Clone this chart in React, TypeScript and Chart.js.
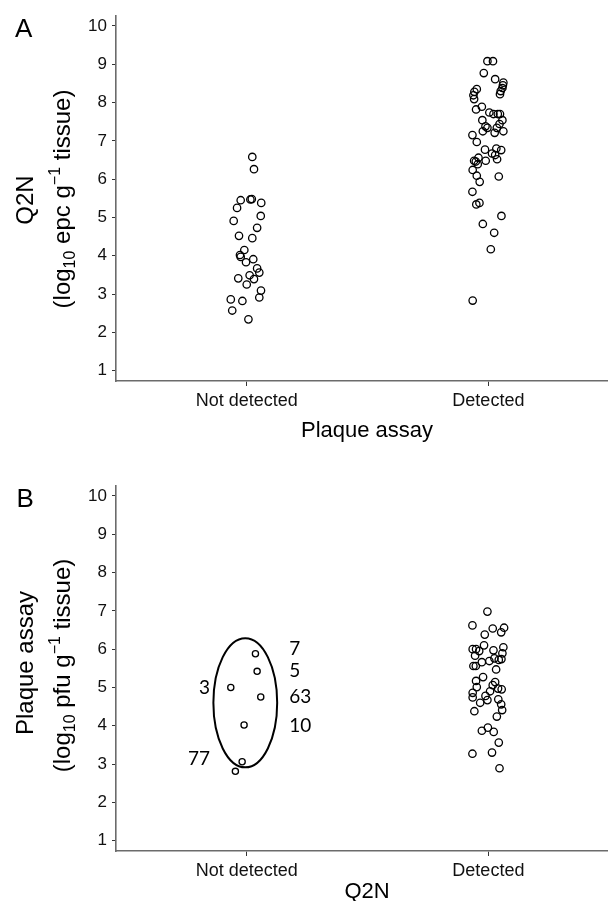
import React, { useEffect, useRef } from "react";
import { Chart, registerables } from "chart.js";
Chart.register(...registerables);

// ---------- DATA ----------
const categories = ["Not detected", "Detected"];
const yTickValues = [1, 2, 3, 4, 5, 6, 7, 8, 9, 10];

// Panel A: Q2N (log10 epc/g) grouped by plaque assay result
const aNotDetectedQ2N = [6.58, 6.26, 5.45, 5.47, 5.48, 5.38, 5.25, 5.04, 4.91, 4.73, 4.52, 4.46, 4.15, 4.02, 3.97, 3.91, 3.83, 3.67, 3.56, 3.49, 3.39, 3.41, 3.25, 3.09, 2.91, 2.86, 2.82, 2.57, 2.34];
const aNotDetectedJitter = [0.023, 0.03, -0.025, 0.015, 0.021, 0.06, -0.04, 0.058, -0.054, 0.043, -0.032, 0.023, -0.01, -0.028, -0.025, 0.027, -0.003, 0.043, 0.052, 0.012, 0.03, -0.035, 0.0, 0.059, 0.052, -0.066, -0.018, -0.06, 0.007];

const aDetectedQ2N = [9.08, 9.08, 8.77, 8.61, 8.52, 8.45, 8.38, 8.3, 8.22, 8.35, 8.28, 8.19, 8.09, 7.89, 7.82, 7.74, 7.7, 7.7, 7.7, 7.54, 7.54, 7.44, 7.38, 7.34, 7.34, 7.25, 7.21, 7.25, 7.15, 6.97, 6.77, 6.8, 6.76, 6.67, 6.63, 6.56, 6.48, 6.46, 6.39, 6.48, 6.52, 6.24, 6.09, 6.07, 5.93, 5.67, 5.34, 5.38, 5.04, 4.83, 4.6, 4.17, 2.83];
const aDetectedJitter = [-0.004, 0.019, -0.019, 0.028, 0.062, 0.06, 0.058, 0.051, 0.048, -0.048, -0.058, -0.062, -0.059, -0.027, -0.051, 0.004, 0.021, 0.039, 0.048, -0.025, 0.058, 0.046, -0.012, -0.004, 0.035, -0.023, 0.026, 0.062, -0.066, -0.048, -0.014, 0.033, 0.053, 0.015, 0.028, -0.041, -0.059, -0.052, -0.044, -0.011, 0.036, -0.065, -0.048, 0.043, -0.036, -0.066, -0.05, -0.037, 0.054, -0.023, 0.024, 0.01, -0.065];

// Panel B: plaque assay (log10 pfu/g) grouped by Q2N result
const bNotDetectedPlaque = [5.88, 5.42, 5.0, 4.75, 4.02, 3.06, 2.81];
const bNotDetectedJitter = [0.036, 0.043, -0.066, 0.058, -0.011, -0.019, -0.047];

const bDetectedPlaque = [6.98, 6.62, 6.54, 6.56, 6.44, 6.38, 6.1, 6.05, 6.0, 6.0, 5.95, 5.97, 5.89, 5.83, 5.76, 5.74, 5.72, 5.66, 5.69, 5.56, 5.56, 5.47, 5.27, 5.17, 5.14, 5.06, 5.01, 4.97, 4.95, 4.9, 4.86, 4.78, 4.74, 4.67, 4.69, 4.6, 4.56, 4.41, 4.38, 4.24, 3.87, 3.95, 3.84, 3.56, 3.27, 3.3, 2.89];
const bDetectedJitter = [-0.004, -0.066, 0.018, 0.065, 0.053, -0.015, -0.018, 0.062, -0.065, -0.051, -0.038, 0.021, 0.058, -0.055, 0.025, 0.054, 0.043, -0.027, 0.004, -0.062, -0.052, 0.032, -0.022, -0.051, 0.028, 0.018, -0.048, 0.04, 0.055, 0.007, -0.065, -0.012, -0.065, -0.004, 0.041, -0.034, 0.053, 0.057, -0.058, 0.035, -0.027, -0.002, 0.022, 0.043, -0.066, 0.015, 0.046];

// Panel B annotations (sample IDs) and the ellipse around the not-detected group
const annotationLabels = ["7", "5", "63", "10", "3", "77"];
const annotationY = [6.02, 5.43, 4.75, 4.0, 4.98, 3.13];
const annotationX = [1.176, 1.176, 1.176, 1.176, 0.848, 0.848];
const annotationAlign = ["left", "left", "left", "left", "right", "right"];
const ellipseCenter = [0.994, 4.6];
const ellipseRadii = [0.132, 1.686];

// ---------- STYLE ----------
const FONT = "'Liberation Sans', Arial, Helvetica, sans-serif";
const LABEL_FONT = "Lato, 'Open Sans', sans-serif";

type Seg = { t: string; k?: "sub" | "sup" };

function pts(values: number[], jitter: number[], cat: number) {
  return values.map((v, i) => ({ x: cat + jitter[i], y: v }));
}

function drawRotated(ctx: CanvasRenderingContext2D, segs: Seg[], size: number, baseX: number, centerY: number) {
  const fontFor = (s: Seg) => `${s.k ? Math.round(size * 0.65) : size}px ${FONT}`;
  let total = 0;
  for (const s of segs) {
    ctx.font = fontFor(s);
    total += ctx.measureText(s.t).width;
  }
  ctx.save();
  ctx.translate(baseX, centerY);
  ctx.rotate(-Math.PI / 2);
  ctx.fillStyle = "#000";
  ctx.textBaseline = "alphabetic";
  ctx.textAlign = "left";
  let x = -total / 2;
  for (const s of segs) {
    ctx.font = fontFor(s);
    const dy = s.k === "sub" ? size * 0.22 : s.k === "sup" ? -size * 0.4 : 0;
    ctx.fillText(s.t, x, dy);
    x += ctx.measureText(s.t).width;
  }
  ctx.restore();
}

type PanelText = {
  letter: string;
  letterX: number;
  letterY: number;
  yTitle: { segs: Seg[]; bx: number; cy: number }[];
  xTitle: string;
  xTitleX: number;
  xTitleY: number;
  ellipse?: boolean;
};

function textPlugin(p: PanelText) {
  return {
    id: "panelText" + p.letter,
    afterDraw(chart: any) {
      const ctx: CanvasRenderingContext2D = chart.ctx;
      ctx.save();
      ctx.fillStyle = "#000";
      ctx.font = `26px ${FONT}`;
      ctx.textAlign = "left";
      ctx.textBaseline = "alphabetic";
      ctx.fillText(p.letter, p.letterX, p.letterY);
      for (const line of p.yTitle) drawRotated(ctx, line.segs, 24, line.bx, line.cy);
      ctx.font = `22px ${FONT}`;
      ctx.textAlign = "center";
      ctx.fillText(p.xTitle, p.xTitleX, p.xTitleY);
      if (p.ellipse) {
        const xs = chart.scales.x;
        const ys = chart.scales.y;
        const cx = xs.getPixelForValue(ellipseCenter[0]);
        const cy = ys.getPixelForValue(ellipseCenter[1]);
        const rx = Math.abs(xs.getPixelForValue(ellipseCenter[0] + ellipseRadii[0]) - cx);
        const ry = Math.abs(ys.getPixelForValue(ellipseCenter[1] + ellipseRadii[1]) - cy);
        ctx.beginPath();
        ctx.ellipse(cx, cy, rx, ry, 0, 0, Math.PI * 2);
        ctx.strokeStyle = "#000";
        ctx.lineWidth = 2;
        ctx.stroke();
        ctx.font = `19px ${LABEL_FONT}`;
        ctx.textBaseline = "middle";
        annotationLabels.forEach((lab, i) => {
          ctx.textAlign = annotationAlign[i] as CanvasTextAlign;
          ctx.fillText(lab, xs.getPixelForValue(annotationX[i]), ys.getPixelForValue(annotationY[i]));
        });
      }
      ctx.restore();
    },
  };
}

function makeConfig(datasets: any[], padTop: number, xAxisHeight: number, plugin: any) {
  return {
    type: "scatter",
    data: { datasets },
    options: {
      animation: false,
      responsive: false,
      events: [],
      layout: { autoPadding: false, padding: { top: padTop, right: 0, bottom: 0, left: 0 } },
      plugins: { legend: { display: false }, tooltip: { enabled: false }, title: { display: false } },
      scales: {
        x: {
          type: "linear",
          min: 0.459,
          max: 2.495,
          afterBuildTicks: (s: any) => {
            s.ticks = categories.map((_, i) => ({ value: i + 1 }));
          },
          afterFit: (s: any) => {
            s.height = xAxisHeight;
          },
          ticks: {
            callback: (_v: any, i: number) => categories[i],
            font: { family: FONT, size: 18 },
            color: "#111",
            padding: 4,
            maxRotation: 0,
            autoSkip: false,
          },
          grid: { display: true, drawOnChartArea: false, drawTicks: true, tickLength: 5, tickColor: "#333", tickWidth: 1 },
          border: { display: true, color: "#6b6b6b", width: 1.6 },
        },
        y: {
          type: "linear",
          min: 0.73,
          max: 10.26,
          afterBuildTicks: (s: any) => {
            s.ticks = yTickValues.map((v) => ({ value: v }));
          },
          afterFit: (s: any) => {
            s.width = 116;
          },
          ticks: {
            callback: (v: any) => String(v),
            font: { family: FONT, size: 17 },
            color: "#111",
            padding: 5,
            autoSkip: false,
          },
          grid: { display: true, drawOnChartArea: false, drawTicks: true, tickLength: 4, tickColor: "#333", tickWidth: 1 },
          border: { display: true, color: "#6b6b6b", width: 1.6 },
        },
      },
    },
    plugins: [plugin],
  } as any;
}

const pointStyle = (radius: number) => ({
  pointRadius: radius,
  pointBorderWidth: 1.3,
  pointBorderColor: "#000",
  pointBackgroundColor: "rgba(255,255,255,0)",
  pointStyle: "circle",
  showLine: false,
  clip: false,
});

export default function App() {
  const refA = useRef<HTMLCanvasElement>(null);
  const refB = useRef<HTMLCanvasElement>(null);

  useEffect(() => {
    const chartA = new Chart(
      refA.current!,
      makeConfig(
        [
          { label: categories[0], data: pts(aNotDetectedQ2N, aNotDetectedJitter, 1), ...pointStyle(3.7) },
          { label: categories[1], data: pts(aDetectedQ2N, aDetectedJitter, 2), ...pointStyle(3.7) },
        ],
        16,
        69,
        textPlugin({
          letter: "A",
          letterX: 15,
          letterY: 36.7,
          yTitle: [
            { segs: [{ t: "Q2N" }], bx: 33, cy: 200 },
            { segs: [{ t: "(log" }, { t: "10", k: "sub" }, { t: " epc g" }, { t: "−1", k: "sup" }, { t: " tissue)" }], bx: 70, cy: 199 },
          ],
          xTitle: "Plaque assay",
          xTitleX: 367,
          xTitleY: 436.5,
        })
      )
    );
    const chartB = new Chart(
      refB.current!,
      makeConfig(
        [
          { label: categories[0], data: pts(bNotDetectedPlaque, bNotDetectedJitter, 1), ...pointStyle(3.1) },
          { label: categories[1], data: pts(bDetectedPlaque, bDetectedJitter, 2), ...pointStyle(3.7) },
        ],
        36,
        50,
        textPlugin({
          letter: "B",
          letterX: 16.5,
          letterY: 56.5,
          yTitle: [
            { segs: [{ t: "Plaque assay" }], bx: 33, cy: 213 },
            { segs: [{ t: "(log" }, { t: "10", k: "sub" }, { t: " pfu g" }, { t: "−1", k: "sup" }, { t: " tissue)" }], bx: 70, cy: 215.5 },
          ],
          xTitle: "Q2N",
          xTitleX: 367,
          xTitleY: 447.5,
          ellipse: true,
        })
      )
    );
    return () => {
      chartA.destroy();
      chartB.destroy();
    };
  }, []);

  return (
    <div style={{ position: "absolute", left: 0, top: 0, width: 608, height: 901, background: "#fff" }}>
      <canvas ref={refA} width={608} height={450} style={{ display: "block", width: 608, height: 450 }} />
      <canvas ref={refB} width={608} height={451} style={{ display: "block", width: 608, height: 451 }} />
    </div>
  );
}
